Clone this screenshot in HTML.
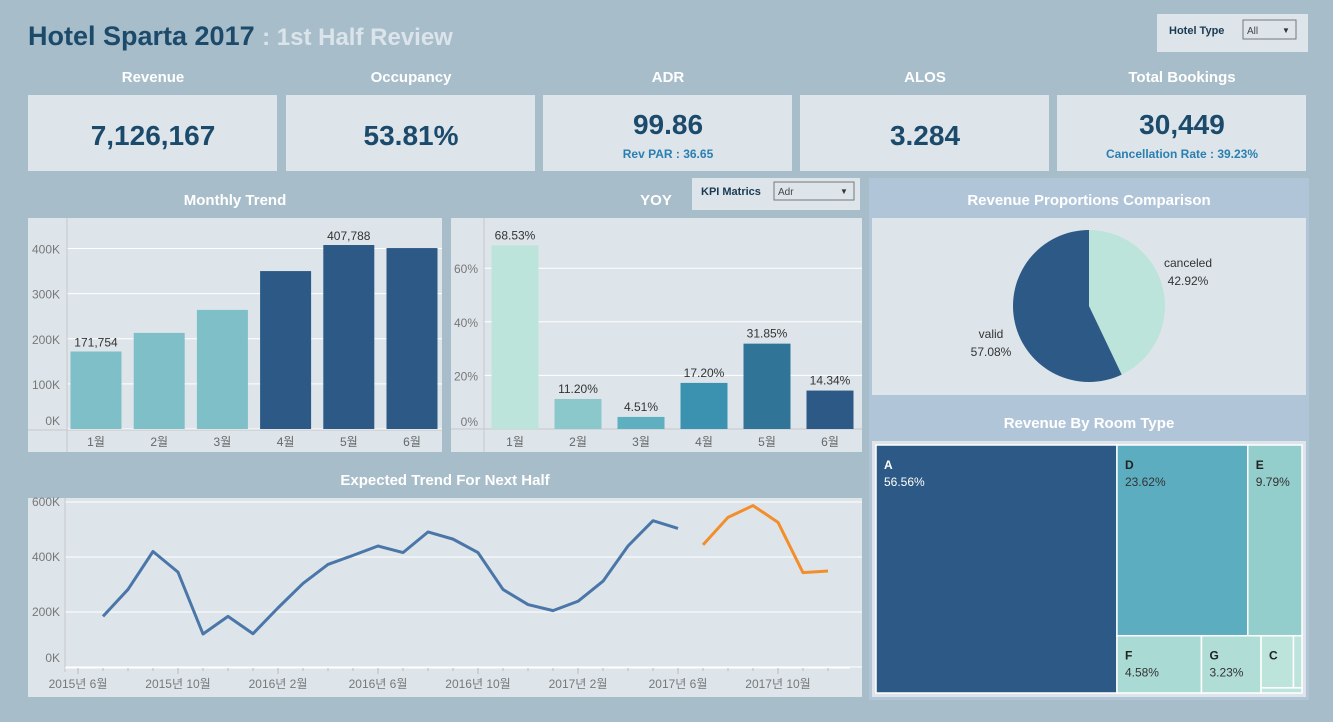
<!DOCTYPE html>
<html><head><meta charset="utf-8"><style>
body{margin:0;width:1333px;height:722px;background:#a8bdca;overflow:hidden;font-family:"Liberation Sans","Noto Sans CJK KR",sans-serif}
svg{position:absolute;left:0;top:0}
text{font-family:"Liberation Sans","Noto Sans CJK KR",sans-serif}
</style></head><body>
<svg id="s" width="1333" height="722">
<g>
<text x="28" y="45" font-size="27" font-weight="bold" fill="#1b4a6b">Hotel Sparta 2017 <tspan fill="#dbe4ea" font-size="24">: 1st Half  Review</tspan></text>
<rect x="1157" y="14" width="151" height="38" fill="#dde5eb"/>
<text x="1169" y="34" font-size="11" font-weight="bold" fill="#1b3a52">Hotel Type</text>
<rect x="1243" y="20" width="53" height="19" fill="#dde5eb" stroke="#777"/>
<text x="1247" y="34" font-size="10" fill="#444">All</text>
<text x="1282" y="33" font-size="8" fill="#333">▼</text>
</g>
<g id="kpis"></g>
<g>
<text x="235" y="205" font-size="15" font-weight="bold" fill="#fff" text-anchor="middle">Monthly Trend</text>
<rect x="28" y="218" width="414" height="234" fill="#dde5eb"/>
<g id="mt"></g>
</g>
<g>
<text x="656" y="205" font-size="15" font-weight="bold" fill="#fff" text-anchor="middle">YOY</text>
<rect x="692" y="178" width="168" height="32" fill="#dde5eb"/>
<text x="701" y="195" font-size="11" font-weight="bold" fill="#1b3a52">KPI Matrics</text>
<rect x="774" y="182" width="80" height="18" fill="#dde5eb" stroke="#777"/>
<text x="778" y="195" font-size="10" fill="#444">Adr</text>
<text x="840" y="194" font-size="8" fill="#333">▼</text>
<rect x="451" y="218" width="411" height="234" fill="#dde5eb"/>
<g id="yoy"></g>
</g>
<g>
<text x="445" y="485" font-size="15" font-weight="bold" fill="#fff" text-anchor="middle">Expected Trend For Next Half</text>
<rect x="28" y="498" width="834" height="199" fill="#dde5eb"/>
<g id="lc"></g>
</g>
<g>
<rect x="869" y="178" width="440" height="522" fill="#b1c5d9"/>
<text x="1089" y="205" font-size="15" font-weight="bold" fill="#fff" text-anchor="middle">Revenue Proportions Comparison</text>
<rect x="872" y="218" width="434" height="177" fill="#dde5eb"/>
<g id="pie"></g>
<text x="1089" y="428" font-size="15" font-weight="bold" fill="#fff" text-anchor="middle">Revenue By Room Type</text>
<rect x="872" y="441" width="434" height="256" fill="#dde5eb"/>
<g id="tm"></g>
</g>
</svg>
<script>
const NS='http://www.w3.org/2000/svg';
function mk(p,t,a,txt){const e=document.createElementNS(NS,t);for(const k in a)e.setAttribute(k,a[k]);if(txt!==undefined)e.textContent=txt;p.appendChild(e);return e;}
// KPI data
const kpiLabels=['Revenue','Occupancy','ADR','ALOS','Total  Bookings'];
const kpiValues=['7,126,167','53.81%','99.86','3.284','30,449'];
const kpiSubs=['','','Rev PAR : 36.65','','Cancellation Rate : 39.23%'];
const kx=[28,286,543,800,1057];
const kg=document.getElementById('kpis');
kpiLabels.forEach((l,i)=>{
  let t=mk(kg,'text',{x:kx[i]+125,y:82,'font-size':15,'font-weight':'bold',fill:'#fff','text-anchor':'middle','xml:space':'preserve'},l);
  
  
  let r=mk(kg,'rect',{x:kx[i],y:95,width:249,height:76,fill:'#dde5eb'});
  
  
  let v=mk(kg,'text',{x:kx[i]+125,y:kpiSubs[i]?134:145,'font-size':28,'font-weight':'bold',fill:'#1b4a6b','text-anchor':'middle'},kpiValues[i]);
  
  
  if(kpiSubs[i]){let s=mk(kg,'text',{x:kx[i]+125,y:158,'font-size':12,'font-weight':'bold',fill:'#2a7fb0','text-anchor':'middle'},kpiSubs[i]);
  
  }
});
// Monthly trend
const months=['1월','2월','3월','4월','5월','6월'];
const revenue=[171754,213000,264000,350000,407788,401000];
const revLabels=['171,754','','','','407,788',''];
const revColors=['#7fbfc8','#7fbfc8','#7fbfc8','#2c5985','#2c5985','#2c5985'];
const revTicks=[0,100000,200000,300000,400000];
const mt=document.getElementById('mt');
const my=v=>429-v*184/407788, mx=i=>96+i*63.2;
revTicks.forEach(v=>{let l=mk(mt,'line',{x1:67,x2:442,y1:my(v),y2:my(v),stroke:'#fff','stroke-width':1});

let t=mk(mt,'text',{x:60,y:my(v)+(v?5:-4),'font-size':12,fill:'#777','text-anchor':'end'},(v/1000)+'K');
});
mk(mt,'line',{x1:67,x2:67,y1:218,y2:452,stroke:'#c8c8c8'});
mk(mt,'line',{x1:28,x2:442,y1:430,y2:430,stroke:'#c8c8c8'});
revenue.forEach((v,i)=>{let b=mk(mt,'rect',{x:mx(i)-25.5,y:my(v),width:51,height:429-my(v),fill:revColors[i]});

let t=mk(mt,'text',{x:mx(i),y:446,'font-size':12,fill:'#666','text-anchor':'middle'},months[i]);

if(revLabels[i]){let l=mk(mt,'text',{x:mx(i),y:my(v)-5,'font-size':12,fill:'#333','text-anchor':'middle'},revLabels[i]);
}});
// YOY
const yoy=[68.53,11.20,4.51,17.20,31.85,14.34];
const yoyColors=['#bce4da','#8ac8cc','#5eb0c0','#3b92b0','#307598','#2c5985'];
const yoyTicks=[0,20,40,60];
const yg=document.getElementById('yoy');
const yy=v=>429-v*2.68, yx=i=>515+i*63;
yoyTicks.forEach(v=>{let l=mk(yg,'line',{x1:484,x2:862,y1:yy(v),y2:yy(v),stroke:'#fff'});

let t=mk(yg,'text',{x:478,y:yy(v)+(v?5:-3),'font-size':12,fill:'#777','text-anchor':'end'},v+'%');
});
mk(yg,'line',{x1:484,x2:484,y1:218,y2:452,stroke:'#c8c8c8'});
mk(yg,'line',{x1:451,x2:862,y1:429,y2:429,stroke:'#c8c8c8'});
yoy.forEach((v,i)=>{let b=mk(yg,'rect',{x:yx(i)-23.5,y:yy(v),width:47,height:429-yy(v),fill:yoyColors[i]});

let l=mk(yg,'text',{x:yx(i),y:yy(v)-6,'font-size':12,fill:'#333','text-anchor':'middle'},v.toFixed(2)+'%');

let t=mk(yg,'text',{x:yx(i),y:446,'font-size':12,fill:'#666','text-anchor':'middle'},months[i]);
});
// Line chart (month index 0 = 2015-06)
const actual=[184,282,420,345,120,184,121,215,304,373,406,440,416,491,465,416,282,227,205,239,312,440,532,504];
const forecast=[444,544,587,526,343,349];
const lineTickLabels=['2015년 6월','2015년 10월','2016년 2월','2016년 6월','2016년 10월','2017년 2월','2017년 6월','2017년 10월'];
const lineYTicks=[0,200,400,600];
const lg=document.getElementById('lc');
const lx=m=>78+25*m, ly=v=>667-v*165/600;
lineYTicks.forEach(v=>{let l=mk(lg,'line',{x1:65,x2:862,y1:ly(v),y2:ly(v),stroke:'#fff'});

let t=mk(lg,'text',{x:60,y:ly(v)+(v?4:-5),'font-size':12,fill:'#777','text-anchor':'end'},v+'K');
});
mk(lg,'line',{x1:65,x2:65,y1:498,y2:672,stroke:'#c8c8c8'});
mk(lg,'line',{x1:65,x2:850,y1:668,y2:668,stroke:'#fff'});
for(let m=0;m<=30;m++){mk(lg,'line',{x1:lx(m),x2:lx(m),y1:668,y2:m%4==0?674:671,stroke:'#bbb'});}
lineTickLabels.forEach((s,i)=>{let t=mk(lg,'text',{x:lx(i*4),y:688,'font-size':12,fill:'#777','text-anchor':'middle'},s);
});
let p1=mk(lg,'polyline',{points:actual.map((v,i)=>lx(i+1)+','+ly(v)).join(' '),fill:'none',stroke:'#4a76a8','stroke-width':3,'stroke-linejoin':'round'});

let p2=mk(lg,'polyline',{points:forecast.map((v,i)=>lx(i+25)+','+ly(v)).join(' '),fill:'none',stroke:'#f28e2b','stroke-width':3,'stroke-linejoin':'round'});

// Pie
const pieLabels=['canceled','valid'];
const pieValues=[42.92,57.08];
const pieColors=['#bce4da','#2c5985'];
const pg=document.getElementById('pie');
const cx=1089,cy=306,R=76;let a0=-Math.PI/2;
pieValues.forEach((v,i)=>{const a1=a0+v/100*2*Math.PI;
const d=`M${cx},${cy} L${cx+R*Math.cos(a0)},${cy+R*Math.sin(a0)} A${R},${R} 0 ${v>50?1:0} 1 ${cx+R*Math.cos(a1)},${cy+R*Math.sin(a1)} Z`;
let s=mk(pg,'path',{d:d,fill:pieColors[i]});
a0=a1;});
const plx=[1188,991],ply=[267,338];
pieLabels.forEach((l,i)=>{let t=mk(pg,'text',{x:plx[i],y:ply[i],'font-size':12,fill:'#333','text-anchor':'middle'},l);

let t2=mk(pg,'text',{x:plx[i],y:ply[i]+18,'font-size':12,fill:'#333','text-anchor':'middle'},pieValues[i].toFixed(2)+'%');
});
// Treemap
const rooms=['A','D','E','F','G','C','B','H'];
const shares=[56.56,23.62,9.79,4.58,3.23,1.60,0.42,0.20];
const roomColors=['#2c5985','#5dadc0','#93cdcc','#a9dad4','#b1ddd7','#bce4da','#bce4da','#bce4da'];
const tg=document.getElementById('tm');
const X0=876,Y0=445,W=426,H=248;
const rects=[];
const aw=W*shares[0]/100; rects.push([X0,Y0,aw,H]);
const restW=W-aw, rest=100-shares[0];
const topH=H*(shares[1]+shares[2])/rest;
const dw=restW*shares[1]/(shares[1]+shares[2]);
rects.push([X0+aw,Y0,dw,topH]); rects.push([X0+aw+dw,Y0,restW-dw,topH]);
const botH=H-topH, botSum=rest-shares[1]-shares[2];
let bx=X0+aw;
const fw=restW*shares[3]/botSum; rects.push([bx,Y0+topH,fw,botH]); bx+=fw;
const gw=restW*shares[4]/botSum; rects.push([bx,Y0+topH,gw,botH]); bx+=gw;
const smallW=X0+W-bx, smallSum=shares[5]+shares[6]+shares[7];
const upH=botH*(shares[5]+shares[6])/smallSum;
const cw=smallW*shares[5]/(shares[5]+shares[6]);
rects.push([bx,Y0+topH,cw,upH]); rects.push([bx+cw,Y0+topH,smallW-cw,upH]); rects.push([bx,Y0+topH+upH,smallW,botH-upH]);
rects.forEach((r,i)=>{let e=mk(tg,'rect',{x:r[0],y:r[1],width:r[2],height:r[3],fill:roomColors[i],stroke:'#fff','stroke-width':1.5});

if(i<6){const c=i==0?'#fff':'#222';
let t=mk(tg,'text',{x:r[0]+8,y:r[1]+24,'font-size':12,'font-weight':'bold',fill:c},rooms[i]);

if(i<5){let t2=mk(tg,'text',{x:r[0]+8,y:r[1]+41,'font-size':12,fill:i==0?'#fff':'#333'},shares[i].toFixed(2)+'%');
}}});
</script>
</body></html>
